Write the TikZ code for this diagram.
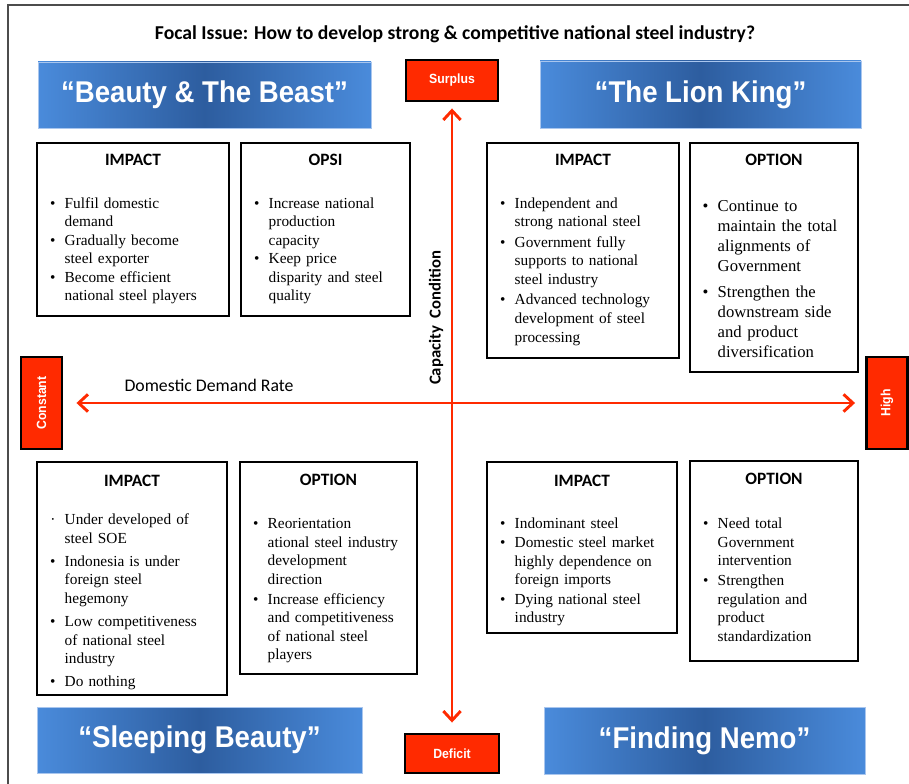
\documentclass[tikz,border=0pt]{standalone}
\usepackage{fontspec}
\setmainfont{Liberation Serif}
\newfontfamily\calibri{Carlito}
\newfontfamily\posterfont[FakeStretch=0.92]{Liberation Sans}
\usepackage{tikz}
\usetikzlibrary{
  positioning,
  calc,
  fit,
  arrows.meta
}
\usepackage{xcolor}

\definecolor{alarm}{HTML}{FF2A00}
\definecolor{skyedge}{HTML}{4A8BDB}
\definecolor{skymid}{HTML}{2D5D9F}
\definecolor{skyline}{HTML}{A9C6EE}

% bullet with hanging indent
\newcommand{\bitem}[1][\textbullet]{\par\hangindent=21pt\hangafter=1\noindent\hbox to 21pt{\hss#1\hskip 7pt}\ignorespaces}

\begin{document}
\begin{tikzpicture}[x=0.75pt,y=-0.75pt,>={Straight Barb[length=7pt,width=13pt]},
    pageframe/.style={draw=black!70,line width=1.2pt},
    movie/.style={left color=skyedge,right color=skyedge,middle color=skymid,
      draw=skyline,line width=0.6pt,text=white,
      font=\posterfont\bfseries\fontsize{22.5}{26}\selectfont},
    signbox/.style={fill=alarm,draw=black,line width=2.2pt,text=white,inner sep=0pt,
      font=\posterfont\bfseries\fontsize{10}{12}\selectfont},
    card/.style={draw=black,line width=0.8pt,inner sep=0pt},
    cardhead/.style={font=\calibri\bfseries\fontsize{13}{15}\selectfont},
    bullets/.style={anchor=north west,inner sep=0pt,text width=150pt,align=left,
      font=\fontsize{11.5}{13.9}\selectfont,
      execute at begin node={\setlength{\parskip}{#1}}},
    bullets/.default=0pt,
    trend/.style={draw=alarm,line width=2.2pt,<->}]
            \useasboundingbox (0,0) rectangle (909,784);
            \draw[pageframe] (8,784) -- (8,5) -- (909,5);
            \node[font=\calibri\bfseries\fontsize{14.75}{17}\selectfont] (focal) at (455,34)
                {Focal Issue: How to develop strong \& competitive national steel industry?};
            % scenarios
            \node[movie,minimum width=249.75pt,minimum height=49.5pt] (beast) at (204.5,95) {“Beauty \& The Beast”};
            \node[movie,minimum width=240.75pt,minimum height=50.25pt] (lion) at (700.5,94.5) {“The Lion King”};
            \node[movie,minimum width=243.75pt,minimum height=49.5pt] (sleeping) at (199.5,740) {“Sleeping Beauty”};
            \node[movie,minimum width=240.75pt,minimum height=50.25pt] (nemo) at (704.5,740.5) {“Finding Nemo”};
            % axis ends
            \node[signbox,minimum width=69pt,minimum height=30.75pt] (surplus) at (452,80.5) {Surplus};
            \node[signbox,minimum width=70.5pt,minimum height=29.25pt] (deficit) at (452,753.5) {Deficit};
            \node[signbox,minimum width=69pt,minimum height=30.75pt,rotate=90] (constant) at (41.5,403) {Constant};
            \node[signbox,minimum width=69pt,minimum height=30.75pt,rotate=90] (high) at (887,403) {High};
            \draw[trend,shorten <=4.5pt,shorten >=7.5pt] (surplus) -- (deficit);
            \draw[trend,shorten <=9.75pt,shorten >=7.5pt] (constant) -- (high);
            \node[font=\calibri\fontsize{13.3}{16}\selectfont] (demand) at (209,385) {Domestic Demand Rate};
            \node[font=\calibri\bfseries\fontsize{12.5}{15}\selectfont,rotate=90] (capacity) at (436,318) {Capacity\ \ Condition};
            % quadrant cards
            \node[card,fit={(37,143) (229,316)}] (tli) {};
            \node[card,fit={(241,143) (410,316)}] (tlo) {};
            \node[card,fit={(487,143) (679,358)}] (tri) {};
            \node[card,fit={(690,143) (858,372)}] (tro) {};
            \node[card,fit={(37,462) (227,695)}] (bli) {};
            \node[card,fit={(240,462) (417,674)}] (blo) {};
            \node[card,fit={(487,462) (677,633)}] (bri) {};
            \node[card,fit={(690,461) (858,661)}] (bro) {};
            \node[cardhead] (tlihead) at ($(tli.north)+(0,17)$) {IMPACT};
            \node[cardhead] (tlohead) at ($(tlo.north)+(0,17)$) {OPSI};
            \node[cardhead] (trihead) at ($(tri.north)+(0,17)$) {IMPACT};
            \node[cardhead] (trohead) at ($(tro.north)+(0,17)$) {OPTION};
            \node[cardhead] (blihead) at ($(bli.north)+(0,19)$) {IMPACT};
            \node[cardhead] (blohead) at ($(blo.north)+(0,18)$) {OPTION};
            \node[cardhead] (brihead) at ($(bri.north)+(0,19)$) {IMPACT};
            \node[cardhead] (brohead) at ($(bro.north)+(0,18)$) {OPTION};
            \node[bullets] (tlilist) at ($(tli.north west)+(0,47)$)
                {\bitem Fulfil domestic\newline demand
                 \bitem Gradually become\newline steel exporter
                 \bitem Become efficient\newline national steel players\par};
            \node[bullets] (tlolist) at ($(tlo.north west)+(0,47)$)
                {\bitem Increase national\newline production\newline capacity
                 \bitem Keep price\newline disparity and steel\newline quality\par};
            \node[bullets=1.5pt] (trilist) at ($(tri.north west)+(0,45)$)
                {\bitem Independent and\newline strong national steel
                 \bitem Government fully\newline supports to national\newline steel industry
                 \bitem Advanced technology\newline development of steel\newline processing\par};
            \node[bullets=4.5pt,font=\fontsize{12.5}{15}\selectfont] (trolist) at ($(tro.north west)+(0,43)$)
                {\bitem Continue to\newline maintain the total\newline alignments of\newline Government
                 \bitem Strengthen the\newline downstream side\newline and product\newline diversification\par};
            \node[bullets=3.4pt] (blilist) at ($(bli.north west)+(0,40)$)
                {\bitem[\textperiodcentered] Under developed of\newline steel SOE
                 \bitem Indonesia is under\newline foreign steel\newline hegemony
                 \bitem Low competitiveness\newline of national steel\newline industry
                 \bitem Do nothing\par};
            \node[bullets=1pt] (blolist) at ($(blo.north west)+(0,47)$)
                {\bitem Reorientation\newline ational steel industry\newline development\newline direction
                 \bitem Increase efficiency\newline and competitiveness\newline of national steel\newline players\par};
            \node[bullets=0.75pt] (brilist) at ($(bri.north west)+(0,47)$)
                {\bitem Indominant steel
                 \bitem Domestic steel market\newline highly dependence on\newline foreign imports
                 \bitem Dying national steel\newline industry\par};
            \node[bullets=1pt] (brolist) at ($(bro.north west)+(0,48)$)
                {\bitem Need total\newline Government\newline intervention
                 \bitem Strengthen\newline regulation and\newline product\newline standardization\par};
        \end{tikzpicture}
\end{document}
